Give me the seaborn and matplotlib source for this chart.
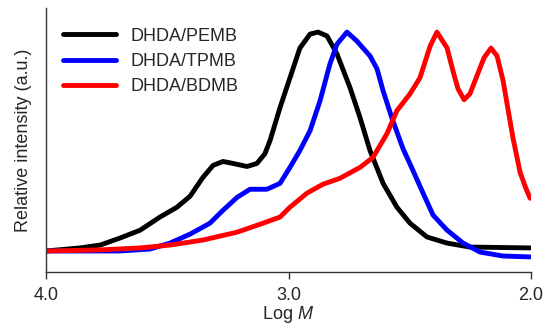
import matplotlib
matplotlib.use("Agg")
from matplotlib import pyplot as plt
import pandas as pd
import seaborn as sns

# Log M vs relative intensity
pemb_logm = [4.000, 3.860, 3.777, 3.695, 3.612, 3.530, 3.460, 3.406, 3.353, 3.311, 3.270, 3.229,
             3.171, 3.130, 3.097, 3.076, 3.035, 2.994, 2.953, 2.911, 2.878, 2.841, 2.800, 2.746,
             2.705, 2.664, 2.610, 2.553, 2.499, 2.429, 2.346, 2.252, 2.004]
pemb_int = [0.000, 0.014, 0.027, 0.059, 0.095, 0.155, 0.200, 0.250, 0.336, 0.391, 0.409, 0.400,
            0.386, 0.400, 0.445, 0.505, 0.655, 0.791, 0.927, 0.991, 1.000, 0.982, 0.900, 0.745,
            0.609, 0.459, 0.309, 0.200, 0.127, 0.064, 0.036, 0.018, 0.014]

tpmb_logm = [4.000, 3.695, 3.571, 3.489, 3.406, 3.324, 3.270, 3.212, 3.159, 3.089, 3.035, 2.994,
             2.953, 2.911, 2.870, 2.829, 2.800, 2.759, 2.718, 2.664, 2.635, 2.610, 2.573, 2.528,
             2.487, 2.445, 2.404, 2.346, 2.280, 2.210, 2.115, 2.004]
tpmb_int = [0.000, 0.000, 0.009, 0.036, 0.077, 0.127, 0.186, 0.245, 0.282, 0.282, 0.309, 0.382,
            0.459, 0.550, 0.686, 0.855, 0.945, 1.000, 0.959, 0.891, 0.832, 0.732, 0.605, 0.468,
            0.368, 0.264, 0.164, 0.095, 0.036, -0.005, -0.023, -0.027]

bdmb_logm = [4.000, 3.777, 3.612, 3.489, 3.353, 3.212, 3.105, 3.035, 2.994, 2.924, 2.858, 2.788,
             2.705, 2.652, 2.594, 2.553, 2.499, 2.458, 2.416, 2.388, 2.346, 2.322, 2.301, 2.276,
             2.252, 2.223, 2.194, 2.165, 2.140, 2.115, 2.099, 2.074, 2.045, 2.021, 2.004]
bdmb_int = [0.000, 0.005, 0.014, 0.027, 0.050, 0.086, 0.127, 0.155, 0.200, 0.264, 0.305, 0.332,
            0.382, 0.427, 0.536, 0.641, 0.718, 0.791, 0.936, 1.000, 0.927, 0.823, 0.741, 0.691,
            0.718, 0.800, 0.882, 0.927, 0.891, 0.777, 0.673, 0.514, 0.359, 0.286, 0.241]

labels = ["DHDA/PEMB", "DHDA/TPMB", "DHDA/BDMB"]
colors = ["black", "#0000ff", "#ff0000"]

df = pd.concat([
    pd.DataFrame({"logm": pemb_logm, "intensity": pemb_int, "sample": labels[0]}),
    pd.DataFrame({"logm": tpmb_logm, "intensity": tpmb_int, "sample": labels[1]}),
    pd.DataFrame({"logm": bdmb_logm, "intensity": bdmb_int, "sample": labels[2]}),
])

sns.set_style("ticks")
plt.rcParams["font.family"] = ["Liberation Sans", "DejaVu Sans"]
plt.rcParams["mathtext.fontset"] = "custom"
plt.rcParams["mathtext.rm"] = "Liberation Sans"
plt.rcParams["mathtext.it"] = "Liberation Sans:italic"

fig, ax = plt.subplots(figsize=(5.5, 3.28), dpi=100)
fig.subplots_adjust(left=0.0836, right=0.9655, bottom=0.1707, top=0.9756)

sns.lineplot(data=df, x="logm", y="intensity", hue="sample", palette=colors,
             estimator=None, sort=True, lw=3.5, ax=ax)
for line in ax.lines:
    line.set_solid_joinstyle("round")

ax.set_xlim(4.0, 2.0)
ax.set_ylim(-0.096, 1.11)
ax.set_xticks([4.0, 3.0, 2.0])
ax.set_xticklabels(["4.0", "3.0", "2.0"], fontsize=13)
ax.set_yticks([])
ax.tick_params(axis="x", direction="out", length=5, width=1, color="#333333", pad=6)
ax.set_xlabel("Log $M$", fontsize=13, labelpad=0)
ax.set_ylabel("Relative intensity (a.u.)", fontsize=13, labelpad=10)
for side in ["top", "right"]:
    ax.spines[side].set_visible(False)
for side in ["left", "bottom"]:
    ax.spines[side].set_color("#333333")
    ax.spines[side].set_linewidth(1)

ax.legend(title=None, frameon=False, fontsize=13, loc="upper left",
          bbox_to_anchor=(0.01, 0.973), handlelength=2.9, handletextpad=0.8,
          labelspacing=0.45, borderaxespad=0.3)

fig.savefig("out.png", dpi=100)
plt.close()
